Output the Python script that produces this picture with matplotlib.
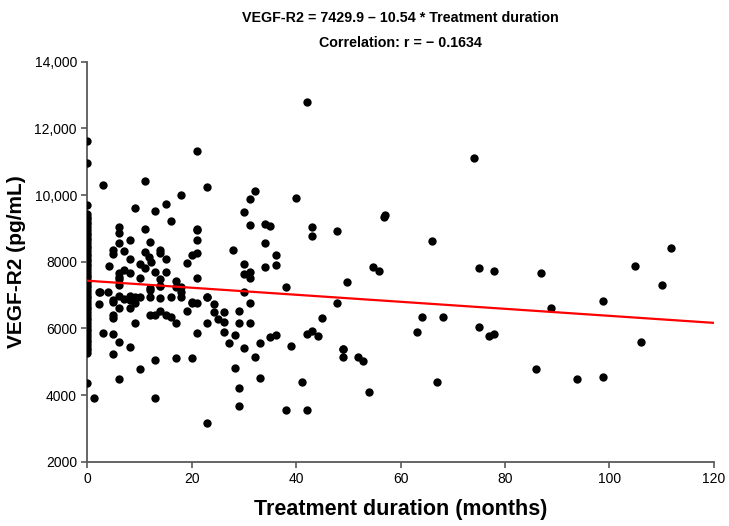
import matplotlib
matplotlib.use("Agg")
import matplotlib.pyplot as plt
import numpy as np

# treatment duration (months) and VEGF-R2 (pg/mL)
months = [
    0, 0, 0, 0,
    0, 0, 0, 0, 0, 0, 0, 0, 0, 0, 0, 0, 0, 0, 0, 0, 0, 0, 0, 0, 0, 0,
    0, 0, 0, 0, 0, 0, 0, 0, 0, 0, 0, 0, 0, 0, 0, 0, 0, 0, 0, 0, 0,
    0, 0, 0, 0, 0, 0, 0, 0, 0, 0,
    1.2, 2.2, 2.4, 2.2, 3.1, 3.1, 4.1, 4, 5, 5, 5, 5, 5, 5, 5, 5,
    6.1, 6.1, 6.1, 6.1, 6.1, 6.1, 6.1, 6.1, 6.1, 6.1, 6.1,
    7.1, 7.1, 7.1, 8.1, 8.1, 8.1, 8.1, 8.1, 8.1, 8.1, 9.1, 9.1, 9.1, 9.1,
    10.1, 10.1, 10.1, 10.1, 11.1, 11.1, 11.1, 11, 11.9, 12.1, 12.2, 12.1,
    12.1, 12.1, 12.1, 13, 13, 13, 13, 13, 14, 14, 14, 14, 14, 14, 14,
    15.1, 15.1, 15.1, 15.1, 16, 16, 16, 17, 17, 17, 17, 18, 18, 18, 18,
    19.1, 19.1, 20, 20, 20, 20, 21, 21, 21, 21, 21, 21, 21, 21,
    23, 23, 23, 23, 23, 24.2, 24.2, 25.1, 26.2, 26.2, 26.2, 27.2, 28,
    28.2, 28.2, 29.1, 29.1, 29.1, 29.1, 30.1, 30.1, 30.1, 30.1, 30.1,
    31.1, 31.1, 31.1, 31.1, 31.2, 31.2, 32.2, 32.2, 33.1, 33.1, 34.1,
    34.1, 34.1, 35, 35, 36.1, 36.1, 36.1, 38, 38.1, 39, 40, 41.1, 42,
    42, 42, 43, 43, 43.1, 44.1, 45, 47.9, 47.9, 48.9, 48.9, 48.9, 49.7,
    51.9, 52.9, 54, 54.8, 55.9, 56.8, 57, 63.1, 64.2, 66.1, 67, 68.1,
    74.1, 75, 75, 76.9, 78, 78, 85.9, 86.9, 88.8, 93.8, 98.8, 98.8, 105,
    106, 110, 111.9,
]
vegfr2 = [
    11610, 10960, 9710, 4370,
    9420, 9340, 9270, 9190, 9120, 9030, 8960, 8870, 8800, 8720, 8640,
    8570, 8480, 8410, 8330, 8240, 8170, 8090, 8010, 7930, 7860, 7770,
    7700, 7610, 7540, 7460, 7380, 7300, 7230, 7140, 7060, 6980, 6900,
    6820, 6730, 6650, 6570, 6490, 6400, 6320, 6240, 6150, 6070,
    5990, 5910, 5830, 5750, 5660, 5580, 5500, 5420, 5340, 5260,
    3904, 7087, 7105, 6736, 10309, 5874, 7886, 7090, 8357, 8228, 6805,
    6856, 6405, 6324, 5826, 5225,
    9039, 8859, 8558, 7658, 7556, 7306, 6985, 6607, 5604, 7477, 4483,
    8327, 7757, 6877, 8637, 8087, 7658, 6985, 6625, 6856, 5453, 9610,
    6775, 6950, 6156, 7928, 7526, 6955, 4784, 10408, 8979, 8297, 7826,
    8156, 8598, 7997, 7207, 6955, 7156, 6405, 9529, 7688, 6405, 5054,
    3904, 8357, 8258, 7477, 7285, 6907, 6535, 7276,
    9730, 8087, 7688, 6405, 9228, 6937, 6354, 7426, 6156, 5105, 7255,
    9988, 7105, 6955, 7255,
    7958, 6535, 8198, 6805, 6776, 5105, 8958, 8658, 8258, 7526, 6775,
    5874, 11309, 8979,
    10228, 6955, 6156, 3171, 6937, 6736, 6486, 6276, 6505, 6186, 5904,
    5574, 8357, 5805, 4823, 6525, 6156, 4204, 3673, 9477, 7937, 7628,
    7087, 5405, 9880, 9087, 7706, 7507, 6757, 6156, 10108, 5135, 5574,
    4523, 9138, 8558, 7856, 9057, 5754, 8207, 7907, 5805, 7237, 3553,
    5483, 9910, 4402, 12781, 5826, 3553, 9027, 8757, 5925, 5775, 6306,
    8907, 6757, 5384, 5135, 5375, 7387, 5135, 5024, 4084, 7856, 7736,
    9330, 9390, 5886, 6336, 8628, 4402, 6336, 11111, 7808, 6036, 5784,
    7736, 5835, 4793, 7658, 6607, 4474, 6835, 4553, 7886, 5604, 7306,
    8426,
]

intercept = 7429.9
slope = -10.54
line_x = [0, 120]

xticks = [0, 20, 40, 60, 80, 100, 120]
yticks = [2000, 4000, 6000, 8000, 10000, 12000, 14000]
ytick_labels = ["2000", "4000", "6000", "8000", "10,000", "12,000", "14,000"]

plt.rcParams["font.family"] = ["Liberation Sans", "DejaVu Sans"]

fig = plt.figure(figsize=(7.29, 5.26), dpi=100)
ax = fig.add_axes([87.3 / 729, 1 - 461.7 / 526, 626.4 / 729, 400 / 526])

ax.scatter(months, vegfr2, s=36, color="black", linewidths=0, zorder=3)
lx = np.array(line_x)
ax.plot(lx, intercept + slope * lx, color="#ff0000", lw=1.6, zorder=4)

ax.set_xlim(0, 120)
ax.set_ylim(2000, 14000)
ax.set_xticks(xticks)
ax.set_yticks(yticks)
ax.set_yticklabels(ytick_labels)
ax.tick_params(axis="both", labelsize=10, color="#595959", length=4,
               width=1.2, labelcolor="black")
for side in ["top", "right"]:
    ax.spines[side].set_visible(False)
for side in ["left", "bottom"]:
    ax.spines[side].set_color("#595959")
    ax.spines[side].set_linewidth(1.3)

ax.set_xlabel("Treatment duration (months)", fontsize=15.5,
              fontweight="bold", labelpad=9)
ax.set_ylabel("VEGF-R2 (pg/mL)", fontsize=15, fontweight="bold")
ax.yaxis.set_label_coords(-0.098, 0.5)

cx = (87.3 + 713.7) / 2 / 729
fig.text(cx, 1 - 18 / 526, "VEGF-R2 = 7429.9 \u2013 10.54 * Treatment duration",
         ha="center", va="center", fontsize=10.3, fontweight="bold")
fig.text(cx, 1 - 43 / 526, "Correlation: r = \u2212 0.1634",
         ha="center", va="center", fontsize=10.3, fontweight="bold")

fig.savefig("out.png", dpi=100)
